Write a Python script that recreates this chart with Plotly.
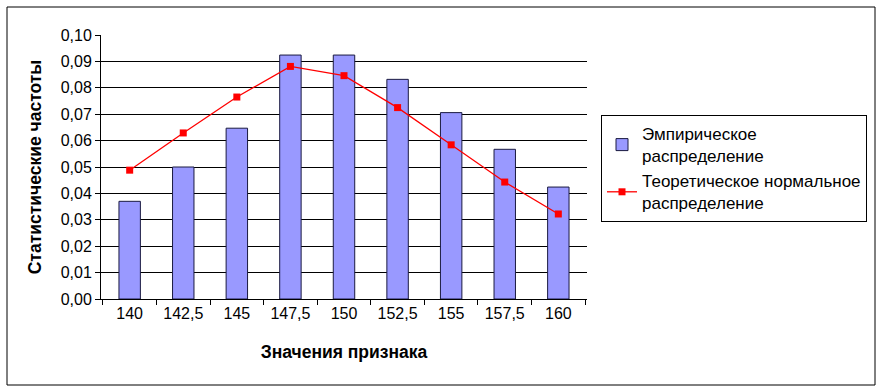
import plotly.graph_objects as go

categories = ["140", "142,5", "145", "147,5", "150", "152,5", "155", "157,5", "160"]
empirical = [0.037, 0.050, 0.0647, 0.0924, 0.0924, 0.0832, 0.0706, 0.0567, 0.0424]
theoretical = [0.0488, 0.0629, 0.0765, 0.0881, 0.0846, 0.0725, 0.0584, 0.0443, 0.0322]
y_ticks = [0.00, 0.01, 0.02, 0.03, 0.04, 0.05, 0.06, 0.07, 0.08, 0.09, 0.10]

FONT = "Liberation Sans, Arial, sans-serif"

fig = go.Figure()
fig.add_trace(go.Bar(
    x=categories, y=empirical,
    name="Эмпирическое<br>распределение",
    marker=dict(color="#9999FF", line=dict(color="#1a1a40", width=1)),
))
fig.add_trace(go.Scatter(
    x=categories, y=theoretical,
    name="Теоретическое нормальное<br>распределение",
    mode="lines+markers",
    line=dict(color="#FF0000", width=1.3),
    marker=dict(symbol="square", size=7, color="#FF0000"),
))

W, H = 883, 392
L, R, T, B = 101, 296, 35, 93
pw, ph = W - L - R, H - T - B

def px_x(x):
    return (x - L) / pw

def px_y(y):
    return (H - B - y) / ph

fig.update_layout(
    width=W, height=H,
    margin=dict(l=L, r=R, t=T, b=B, pad=0),
    paper_bgcolor="white", plot_bgcolor="white",
    separators=", ",
    bargap=0.6,
    font=dict(family=FONT, size=16, color="black"),
    showlegend=True,
    legend=dict(
        x=px_x(601), y=px_y(115), xanchor="left", yanchor="top",
        bordercolor="black", borderwidth=1, bgcolor="white",
        font=dict(size=17), tracegroupgap=3,
    ),
    xaxis=dict(
        type="category",
        showgrid=False, showline=True, linecolor="black", linewidth=1,
        ticks="outside", ticklen=5, tickcolor="black",
        tickson="boundaries",
        tickfont=dict(size=16),
        title=dict(text="<b>Значения признака</b>", font=dict(size=17.5), standoff=24),
    ),
    yaxis=dict(
        range=[0, 0.10], tickvals=y_ticks, tickformat=".2f",
        showgrid=True, gridcolor="black", gridwidth=1,
        showline=True, linecolor="black", linewidth=1,
        ticks="outside", ticklen=5, tickcolor="black",
        tickfont=dict(size=16), zeroline=False,
        title=dict(text="<b>Статистические частоты</b>", font=dict(size=17.5), standoff=14),
    ),
    shapes=[dict(
        type="rect", xref="paper", yref="paper",
        x0=px_x(7), x1=px_x(875), y0=px_y(385), y1=px_y(7),
        line=dict(color="black", width=1), fillcolor="rgba(0,0,0,0)", layer="below",
    )],
)

fig.write_html(
    "out.html",
    config={"displayModeBar": False},
    post_script="document.body.style.margin='0';document.body.style.overflow='hidden';",
)
